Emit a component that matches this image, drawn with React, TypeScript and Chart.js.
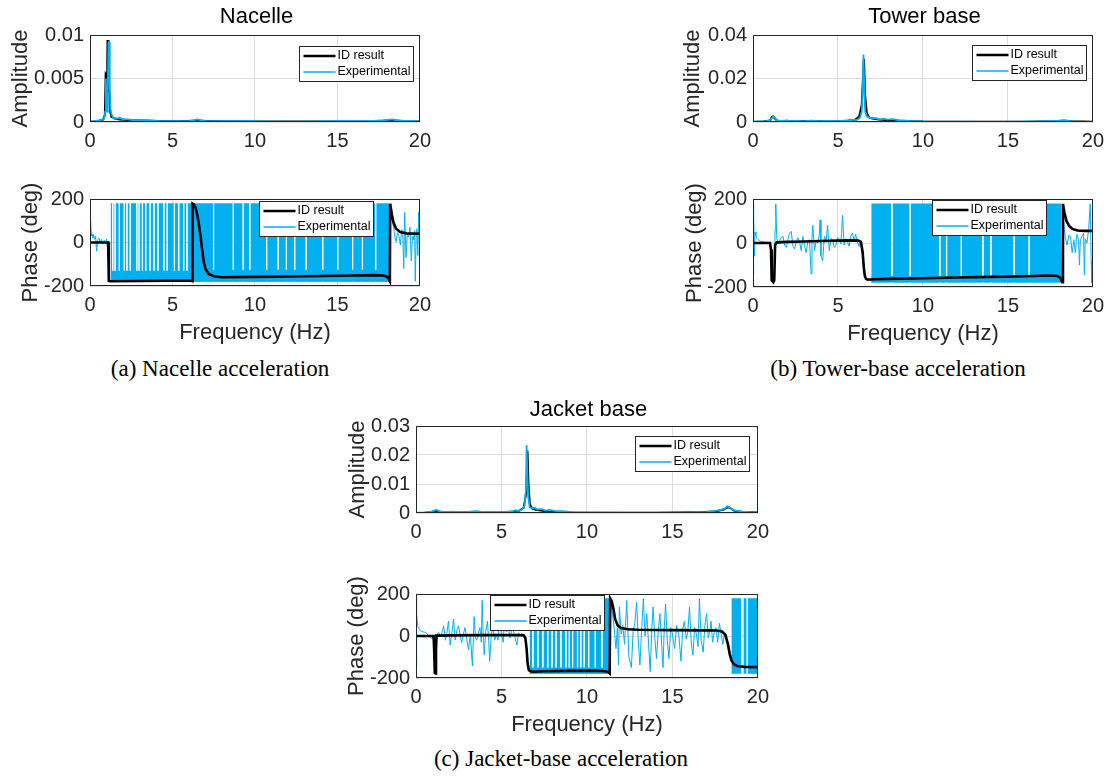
import React, { useEffect, useRef } from 'react';
import { Chart, registerables } from 'chart.js';

Chart.register(...registerables);

const BLUE = '#00B0F0';
const BLACK = '#000000';
const AXIS = '#262626';
const GRID = '#dedede';
const GAP = 0.07;
const PHASE_BOTTOM = -180;
const PHASE_TOP = 180;

// ---------- shared ticks ----------
const freqTicks = [0, 5, 10, 15, 20];
const freqTickLabels = ['0', '5', '10', '15', '20'];
const phaseTicks = [-200, 0, 200];
const phaseTickLabels = ['-200', '0', '200'];
const ampTicksA = [0, 0.005, 0.01];
const ampTickLabelsA = ['0', '0.005', '0.01'];
const ampTicksB = [0, 0.02, 0.04];
const ampTickLabelsB = ['0', '0.02', '0.04'];
const ampTicksC = [0, 0.01, 0.02, 0.03];
const ampTickLabelsC = ['0', '0.01', '0.02', '0.03'];

// ---------- (a) Nacelle ----------
const freqAmpA_id = [0, 0.5, 0.8, 0.9, 0.95, 0.98, 1.02, 1.06, 1.1, 1.14, 1.18, 1.22, 1.3, 1.5, 1.8, 2.5, 3.5, 5, 6.5, 8, 10, 14, 17.5, 18.3, 19, 20];
const ampA_id = [0, 0.0001, 0.0003, 0.0008, 0.0055, 0.0054, 0.0015, 0.0093, 0.0093, 0.0035, 0.0034, 0.0012, 0.0006, 0.0004, 0.0003, 0.0002, 0.00015, 0.0001, 0.00015, 0.0001, 0.00005, 0.00005, 0.0001, 0.0002, 0.0001, 0.00005];
const freqAmpA_exp = [0, 0.3, 0.6, 0.85, 0.92, 0.96, 1.0, 1.04, 1.08, 1.12, 1.16, 1.2, 1.24, 1.3, 1.4, 1.6, 1.8, 2.0, 2.3, 2.7, 3.0, 3.5, 4.2, 5.0, 6.0, 6.5, 7.0, 8.0, 9.5, 11, 13, 15, 17, 17.8, 18.3, 18.6, 19.2, 20];
const ampA_exp = [0.0001, 0.0001, 0.0002, 0.0004, 0.0012, 0.005, 0.0018, 0.0012, 0.004, 0.0091, 0.0092, 0.004, 0.0015, 0.0009, 0.0005, 0.0004, 0.0005, 0.0003, 0.0003, 0.0002, 0.0002, 0.0002, 0.0001, 0.0001, 0.0001, 0.0003, 0.0001, 0.0001, 0.0001, 0.00005, 0.00005, 0.0001, 0.0001, 0.0002, 0.0003, 0.0002, 0.0001, 0.0001];

const freqPhA_id = [0, 1.1, 1.14, 1.2, 3.0, 6.15, 6.2, 6.22, 6.3, 6.4, 6.5, 6.6, 6.7, 6.8, 6.9, 7.0, 7.2, 7.5, 8.0, 10, 12, 14, 16, 17.2, 17.8, 18.0, 18.1, 18.18, 18.2, 18.3, 18.4, 18.55, 18.8, 19.2, 20];
const phA_id = [0, 0, -176, -178, -177, -175, -178, 178, 174, 160, 128, 85, 30, -35, -90, -122, -145, -155, -160, -158, -156, -154, -152, -150, -152, -157, -166, -178, 178, 130, 92, 65, 48, 42, 40];
const freqPhA_exp = [0, 0.02, 0.04, 0.07, 0.1, 0.14, 0.18, 0.22, 0.28, 0.34, 0.4, 0.47, 0.55, 0.62, 0.7, 0.78, 0.86, 0.94, 1.0, 1.05, 1.1, 1.15, 1.2, 1.25, 9, 18.15, 18.22, 18.32, 18.42, 18.5, 18.56, 18.64, 18.72, 18.82, 18.9, 18.96, 19.02, 19.08, 19.16, 19.24, 19.32, 19.4, 19.48, 19.55, 19.62, 19.68, 19.72, 19.78, 19.82, 19.88, 19.92, 19.96, 20];
const phA_exp = [170, -150, 120, 45, 30, 38, 22, 35, 15, 28, -40, 12, 20, 2, 14, -8, 10, -5, 16, -20, 5, -170, -178, -178, null, -170, 150, 108, 63, 20, 4, 45, 33, -11, 60, 48, -120, 138, -70, 40, 25, 70, -85, 30, 13, 55, -178, 40, 63, -60, 138, 10, -30];
const phA_bandFrom = [1.25, 6.3];
const phA_bandTo = [6.2, 18.15];
const phA_bandGaps = [
  [1.38, 1.52, 1.78, 2.08, 2.24, 2.44, 2.84, 2.98, 3.18, 3.38, 3.64, 3.88, 4.12, 4.48, 4.68, 5.12, 5.38, 5.68, 5.88],
  [7.49, 8.69, 9.29, 9.69, 10.71, 11.41, 11.91, 12.41, 13.11, 14.11, 15.02, 15.92, 16.52, 17.32],
];
const phA_bandFloor = [-130, -125];

// ---------- (b) Tower base ----------
const freqAmpB_id = [0, 0.6, 1.0, 1.12, 1.2, 1.3, 1.45, 2, 3, 4, 5, 5.6, 6.0, 6.25, 6.4, 6.47, 6.53, 6.6, 6.7, 6.85, 7.1, 7.4, 8.0, 8.6, 10, 13, 16, 17.8, 18.3, 18.8, 20];
const ampB_id = [0, 0.0002, 0.0006, 0.0024, 0.0025, 0.0015, 0.0005, 0.0003, 0.0003, 0.0003, 0.0004, 0.0006, 0.001, 0.0025, 0.008, 0.02, 0.029, 0.012, 0.004, 0.002, 0.0015, 0.0012, 0.0008, 0.0005, 0.0002, 0.0001, 0.0001, 0.0003, 0.0006, 0.0003, 0.0001];
const freqAmpB_exp = [0, 0.4, 0.8, 1.05, 1.15, 1.22, 1.3, 1.4, 1.7, 2.0, 2.2, 2.6, 3.0, 3.4, 3.9, 4.5, 5.0, 5.4, 5.7, 5.9, 6.1, 6.3, 6.4, 6.46, 6.5, 6.54, 6.6, 6.7, 6.8, 7.0, 7.2, 7.4, 7.7, 7.9, 8.2, 8.6, 9.2, 10, 12, 14, 16, 17.5, 18.0, 18.3, 18.6, 19, 20];
const ampB_exp = [0.0002, 0.0003, 0.0004, 0.0012, 0.0022, 0.0026, 0.0018, 0.0007, 0.0005, 0.0007, 0.0004, 0.0005, 0.0003, 0.0006, 0.0004, 0.0005, 0.0004, 0.0006, 0.0008, 0.0011, 0.0009, 0.002, 0.005, 0.016, 0.031, 0.018, 0.005, 0.0025, 0.0022, 0.0016, 0.0019, 0.0012, 0.0015, 0.0011, 0.0013, 0.0008, 0.0005, 0.0003, 0.0002, 0.0001, 0.0002, 0.0004, 0.0006, 0.0008, 0.0005, 0.0002, 0.0001];

const freqPhB_id = [0, 1.0, 1.06, 1.1, 1.2, 1.25, 1.3, 1.4, 2, 3, 4, 5, 5.8, 6.2, 6.35, 6.45, 6.52, 6.58, 6.65, 6.75, 6.9, 7.2, 8, 10, 12, 14, 16, 17.4, 17.9, 18.05, 18.15, 18.2, 18.24, 18.32, 18.45, 18.6, 18.8, 19.1, 19.5, 20];
const phB_id = [0, 0, -30, -170, -178, -170, -10, 3, 5, 7, 9, 11, 12, 11, 5, -40, -110, -150, -163, -166, -166, -165, -163, -160, -157, -154, -151, -148, -150, -157, -170, -178, 178, 140, 100, 78, 64, 57, 55, 55];
const freqPhB_exp = [0, 0.02, 0.05, 0.08, 0.12, 0.17, 0.22, 0.3, 0.4, 0.5, 0.6, 0.7, 0.8, 0.9, 0.98, 1.05, 1.1, 1.18, 1.26, 1.3, 1.34, 1.4, 1.5, 1.57, 1.65, 1.77, 1.86, 1.96, 2.05, 2.15, 2.25, 2.35, 2.45, 2.55, 2.64, 2.74, 2.84, 2.93, 3.03, 3.13, 3.22, 3.32, 3.42, 3.47, 3.52, 3.62, 3.72, 3.81, 3.9, 3.95, 4.0, 4.1, 4.2, 4.3, 4.39, 4.49, 4.59, 4.69, 4.78, 4.88, 4.98, 5.07, 5.17, 5.27, 5.36, 5.46, 5.56, 5.66, 5.75, 5.85, 5.95, 6.04, 6.14, 6.24, 6.34, 6.45, 6.55, 6.65, 6.75, 6.85, 6.95, 12, 18.15, 18.25, 18.32, 18.39, 18.48, 18.58, 18.68, 18.78, 18.88, 18.97, 19.06, 19.16, 19.21, 19.26, 19.35, 19.45, 19.5, 19.55, 19.65, 19.75, 19.84, 19.9, 19.94, 20];
const phB_exp = [178, -140, 120, -60, 50, 35, 22, 15, 10, 5, 8, 2, 5, -3, 2, -40, -170, -175, -120, 60, 178, 20, -5, 10, 25, 30, -10, -20, 15, 45, 53, -15, -27, 10, 24, 5, -35, 30, -10, -44, 5, 15, -140, 20, 80, -35, 10, 0, 40, 105, -57, -80, 30, 10, 80, -35, 20, 15, -20, -10, 25, 15, -5, 125, -10, 20, 5, -15, 30, 45, 10, 40, 5, -17, 10, -60, -140, -168, -172, -170, -171, null, -172, 150, 60, 21, -10, 35, 30, -44, 15, -44, 40, 15, -100, 10, 30, 45, -145, 20, 0, 60, 178, -80, -180, -10];
const phB_bandFrom = [6.96];
const phB_bandTo = [18.15];
const phB_bandGaps = [[8.18, 9.25, 11.0, 11.39, 12.26, 13.53, 14.0, 15.37, 16.25]];
const phB_bandFloor = [-150];

// ---------- (c) Jacket base ----------
const freqAmpC_id = [0, 0.6, 1.0, 1.15, 1.3, 1.6, 2.5, 3.5, 4.5, 5.5, 6.0, 6.3, 6.45, 6.52, 6.58, 6.66, 6.8, 7.0, 7.4, 8.0, 9, 11, 14, 16.5, 17.5, 18.0, 18.25, 18.4, 18.6, 19, 20];
const ampC_id = [0, 0.0001, 0.0003, 0.0008, 0.0004, 0.0003, 0.0002, 0.0002, 0.0002, 0.0003, 0.0006, 0.0018, 0.007, 0.0215, 0.01, 0.003, 0.0015, 0.0011, 0.0008, 0.0004, 0.0002, 0.0001, 0.0001, 0.0003, 0.0005, 0.0012, 0.002, 0.0017, 0.0008, 0.0004, 0.0002];
const freqAmpC_exp = [0, 0.5, 0.9, 1.1, 1.2, 1.35, 1.7, 2.1, 2.6, 3.0, 3.5, 4.0, 4.6, 5.2, 5.6, 5.8, 6.0, 6.2, 6.35, 6.43, 6.47, 6.51, 6.56, 6.65, 6.8, 6.95, 7.1, 7.3, 7.6, 7.8, 8.1, 8.5, 9.2, 10, 12, 14, 16, 17, 17.6, 17.9, 18.1, 18.2, 18.3, 18.45, 18.7, 19.1, 19.6, 20];
const ampC_exp = [0.0001, 0.0002, 0.0005, 0.0009, 0.0011, 0.0006, 0.0003, 0.0005, 0.0003, 0.0004, 0.0006, 0.0003, 0.0004, 0.0003, 0.0006, 0.0009, 0.0007, 0.0012, 0.0025, 0.008, 0.0234, 0.015, 0.006, 0.002, 0.0016, 0.0018, 0.0012, 0.0014, 0.0008, 0.0011, 0.0007, 0.0006, 0.0003, 0.0002, 0.0001, 0.0001, 0.0002, 0.0004, 0.0008, 0.0012, 0.0016, 0.0024, 0.0021, 0.0014, 0.0008, 0.0005, 0.0003, 0.0002];

const freqPhC_id = [0, 1.03, 1.06, 1.1, 1.14, 1.17, 1.2, 2, 4, 6.0, 6.3, 6.4, 6.47, 6.53, 6.6, 6.7, 6.85, 7.5, 9, 10.5, 11.1, 11.25, 11.33, 11.36, 11.45, 11.55, 11.65, 11.8, 12.0, 12.4, 13, 15, 17, 17.6, 17.9, 18.1, 18.25, 18.35, 18.45, 18.6, 18.8, 19.2, 20];
const phC_id = [0, 0, -60, -175, -178, -60, 2, 3, 4, 5, 4, -10, -60, -130, -162, -168, -170, -168, -166, -165, -168, -172, -178, 178, 165, 130, 80, 50, 38, 32, 30, 28, 27, 26, 22, 5, -40, -85, -115, -135, -143, -147, -148];
const freqPhC_exp = [0, 0.02, 0.05, 0.1, 0.14, 0.2, 0.27, 0.4, 0.56, 0.75, 0.95, 1.05, 1.1, 1.15, 1.2, 1.33, 1.45, 1.55, 1.62, 1.72, 1.8, 1.9, 2.0, 2.1, 2.2, 2.29, 2.4, 2.49, 2.58, 2.67, 2.77, 2.87, 2.97, 3.07, 3.18, 3.3, 3.4, 3.48, 3.55, 3.65, 3.74, 3.82, 3.87, 3.93, 3.99, 4.08, 4.18, 4.25, 4.31, 4.41, 4.51, 4.6, 4.7, 4.8, 4.9, 5.0, 5.1, 5.2, 5.3, 5.4, 5.5, 5.6, 5.7, 5.8, 5.9, 6.0, 6.1, 6.2, 6.3, 6.4, 6.47, 6.53, 6.6, 6.65,
  9,
  11.34, 11.4, 11.5, 11.6, 11.7, 11.78, 11.85, 11.9, 12.0, 12.1, 12.2, 12.33, 12.45, 12.6, 12.7, 12.8, 12.91, 13.0, 13.1, 13.2, 13.3, 13.4, 13.5, 13.6, 13.7, 13.8, 13.87, 13.97, 14.07, 14.17, 14.27, 14.37, 14.45, 14.52, 14.6, 14.7, 14.8, 14.9, 15.0, 15.13, 15.25, 15.38, 15.5, 15.6, 15.7, 15.81, 15.9, 16.0, 16.1, 16.2, 16.3, 16.4, 16.5, 16.58, 16.68, 16.8, 16.9, 17.0, 17.1, 17.2, 17.26, 17.35, 17.45, 17.55, 17.65, 17.75, 17.85, 17.95, 18.05, 18.15, 18.25, 18.35, 18.42];
const phC_exp = [178, -143, 103, 48, 40, 30, 25, 20, 17, 0, -12, 5, -10, 8, 3, 17, -5, 25, 48, -20, 10, 71, -43, 15, 80, -20, 30, 48, 0, -31, 10, 40, -15, -66, 5, -143, 92, -10, -20, 15, 40, -30, 170, 10, -89, 20, 71, -20, -120, 15, 40, -20, 5, -20, 92, 10, -30, 108, 20, 48, -10, 30, 25, -10, -43, 15, 0, 12, -5, -15, -70, -140, -168, -172,
  null,
  -178, 150, 100, 30, -60, 40, -138, 138, 10, 50, -40, 169, -100, -150, 20, 60, 160, -20, -138, 30, 178, 0, 107, -30, -170, 40, 138, -10, -107, 20, 107, -40, -150, 30, 153, -20, -107, 40, 10, -60, 50, 0, -120, 30, 70, -15, 20, 138, -30, -92, 40, 10, -50, 178, -20, -77, 50, 107, -10, 30, 70, -30, 20, 40, -30, 60, 10, -40, 15, 0, -30, -70, -120];
const phC_bandFrom = [6.65, 18.45];
const phC_bandTo = [11.32, 20];
const phC_bandGaps = [
  [6.84, 7.13, 7.42, 7.71, 7.96, 8.19, 8.48, 8.77, 8.97, 9.16, 9.45, 9.64, 9.84, 10.1, 10.49, 10.88],
  [19.06, 19.12, 19.38],
];
const phC_bandFloor = [-150, -180];

// ---------- helpers ----------
type Pt = { x: number; y: number | null };
const pts = (xs: number[], ys: (number | null)[]): Pt[] => xs.map((x, i) => ({ x, y: ys[i] ?? null }));

function bandPoints(from: number, to: number, gaps: number[], top: number): Pt[] {
  const out: Pt[] = [];
  let start = from;
  gaps.filter((g) => g > from && g < to).forEach((g) => {
    out.push({ x: start, y: top }, { x: g - GAP / 2, y: top }, { x: g, y: null });
    start = g + GAP / 2;
  });
  out.push({ x: start, y: top }, { x: to, y: top });
  return out;
}

function bandDatasets(from: number[], to: number[], gaps: number[][], floor: number[]) {
  const list: any[] = [];
  from.forEach((f, i) => {
    list.push({
      label: '', data: bandPoints(f, to[i], gaps[i], PHASE_TOP), borderColor: 'rgba(0,0,0,0)', borderWidth: 1,
      backgroundColor: BLUE, fill: { value: PHASE_BOTTOM }, pointRadius: 0, spanGaps: false,
    });
    if (floor[i] > PHASE_BOTTOM) {
      list.push({
        label: '', data: [{ x: f, y: floor[i] }, { x: to[i], y: floor[i] }], borderColor: 'rgba(0,0,0,0)', borderWidth: 1,
        backgroundColor: BLUE, fill: { value: PHASE_BOTTOM }, pointRadius: 0,
      });
    }
  });
  return list;
}

const ampSets = (fi: number[], vi: number[], fe: number[], ve: number[]) => [
  { label: 'Experimental', data: pts(fe, ve), borderColor: BLUE, borderWidth: 1.8, pointRadius: 0, legendWidth: 1.6 },
  { label: 'ID result', data: pts(fi, vi), borderColor: BLACK, borderWidth: 2, pointRadius: 0, legendWidth: 2.5 },
];

const phaseSets = (fi: number[], vi: number[], fe: number[], ve: (number | null)[], bands: any[]) => [
  { label: 'ID result', data: pts(fi, vi), borderColor: BLACK, borderWidth: 2.6, pointRadius: 0, legendWidth: 2.5 },
  { label: 'Experimental', data: pts(fe, ve), borderColor: BLUE, borderWidth: 1, pointRadius: 0, spanGaps: false, legendWidth: 1.6 },
  ...bands,
];

// ---------- plugins ----------
const framePlugin = {
  id: 'frame',
  afterDatasetsDraw(chart: any) {
    const { ctx, chartArea: a } = chart;
    ctx.save();
    ctx.strokeStyle = AXIS;
    ctx.lineWidth = 1;
    ctx.strokeRect(Math.round(a.left) + 0.5, Math.round(a.top) + 0.5, Math.round(a.right - a.left) - 1, Math.round(a.bottom - a.top) - 1);
    ctx.restore();
  },
};

const boxLegendPlugin = {
  id: 'boxLegend',
  afterDraw(chart: any, _args: any, o: any) {
    if (!o || !o.items) return;
    const { ctx, chartArea: a } = chart;
    const x = Math.round(a.left + o.dx) + 0.5;
    const y = Math.round(a.top + o.dy) + 0.5;
    const w = 114, h = 35;
    ctx.save();
    ctx.fillStyle = '#ffffff';
    ctx.fillRect(x, y, w, h);
    ctx.strokeStyle = AXIS;
    ctx.lineWidth = 1;
    ctx.strokeRect(x, y, w, h);
    ctx.font = '12.5px "Liberation Sans", Arial, sans-serif';
    ctx.textBaseline = 'middle';
    ctx.textAlign = 'left';
    o.items.forEach((label: string, i: number) => {
      const ds = chart.data.datasets.find((d: any) => d.label === label);
      const cy = y + 9.5 + i * 16;
      ctx.strokeStyle = ds.borderColor;
      ctx.lineWidth = ds.legendWidth || ds.borderWidth;
      ctx.beginPath();
      ctx.moveTo(x + 4, cy);
      ctx.lineTo(x + 36, cy);
      ctx.stroke();
      ctx.fillStyle = '#000000';
      ctx.fillText(label, x + 38, cy);
    });
    ctx.restore();
  },
};

Chart.register(framePlugin as any, boxLegendPlugin as any);
Chart.defaults.font.family = '"Liberation Sans", Arial, sans-serif';

// ---------- panel layout ----------
const TOPPAD = 15;
const RIGHTPAD = 15;

interface PanelSpec {
  plotLeft: number; plotTop: number; plotW: number; plotH: number; yTitleCenter: number;
  yTitle: string; xTitle?: string; yMin: number; yMax: number; yTicks: number[]; yTickLabels: string[];
  datasets: any[]; legendDx: number; legendDy: number;
}

const panels: PanelSpec[] = [
  {
    plotLeft: 90, plotTop: 32, plotW: 333, plotH: 90, yTitleCenter: 20.5, yTitle: 'Amplitude',
    yMin: 0, yMax: 0.01, yTicks: ampTicksA, yTickLabels: ampTickLabelsA,
    datasets: ampSets(freqAmpA_id, ampA_id, freqAmpA_exp, ampA_exp), legendDx: 209, legendDy: 11,
  },
  {
    plotLeft: 90, plotTop: 196, plotW: 333, plotH: 90, yTitleCenter: 30.5, yTitle: 'Phase (deg)', xTitle: 'Frequency (Hz)',
    yMin: -200, yMax: 200, yTicks: phaseTicks, yTickLabels: phaseTickLabels,
    datasets: phaseSets(freqPhA_id, phA_id, freqPhA_exp, phA_exp, bandDatasets(phA_bandFrom, phA_bandTo, phA_bandGaps, phA_bandFloor)),
    legendDx: 169, legendDy: 2,
  },
  {
    plotLeft: 753, plotTop: 32, plotW: 343, plotH: 90, yTitleCenter: 693, yTitle: 'Amplitude',
    yMin: 0, yMax: 0.04, yTicks: ampTicksB, yTickLabels: ampTickLabelsB,
    datasets: ampSets(freqAmpB_id, ampB_id, freqAmpB_exp, ampB_exp), legendDx: 219, legendDy: 10,
  },
  {
    plotLeft: 753, plotTop: 196, plotW: 343, plotH: 91, yTitleCenter: 695, yTitle: 'Phase (deg)', xTitle: 'Frequency (Hz)',
    yMin: -200, yMax: 200, yTicks: phaseTicks, yTickLabels: phaseTickLabels,
    datasets: phaseSets(freqPhB_id, phB_id, freqPhB_exp, phB_exp, bandDatasets(phB_bandFrom, phB_bandTo, phB_bandGaps, phB_bandFloor)),
    legendDx: 179, legendDy: 1,
  },
  {
    plotLeft: 416, plotTop: 423, plotW: 345, plotH: 90, yTitleCenter: 358, yTitle: 'Amplitude',
    yMin: 0, yMax: 0.03, yTicks: ampTicksC, yTickLabels: ampTickLabelsC,
    datasets: ampSets(freqAmpC_id, ampC_id, freqAmpC_exp, ampC_exp), legendDx: 219, legendDy: 10,
  },
  {
    plotLeft: 416, plotTop: 591, plotW: 345, plotH: 87, yTitleCenter: 357, yTitle: 'Phase (deg)', xTitle: 'Frequency (Hz)',
    yMin: -200, yMax: 200, yTicks: phaseTicks, yTickLabels: phaseTickLabels,
    datasets: phaseSets(freqPhC_id, phC_id, freqPhC_exp, phC_exp, bandDatasets(phC_bandFrom, phC_bandTo, phC_bandGaps, phC_bandFloor)),
    legendDx: 74, legendDy: 1,
  },
];

function geometry(p: PanelSpec) {
  const left = Math.round(p.yTitleCenter - 13);
  const top = p.plotTop - TOPPAD;
  const yW = p.plotLeft - left;
  const xH = p.xTitle ? 60 : 32;
  return { left, top, yW, xH, width: yW + p.plotW + RIGHTPAD, height: TOPPAD + p.plotH + xH };
}

function Panel({ p }: { p: PanelSpec }) {
  const ref = useRef<HTMLCanvasElement | null>(null);
  const g = geometry(p);
  useEffect(() => {
    if (!ref.current) return;
    const chart = new Chart(ref.current, {
      type: 'line',
      data: { datasets: p.datasets },
      options: {
        responsive: false,
        maintainAspectRatio: false,
        animation: false,
        devicePixelRatio: 1,
        events: [],
        layout: { padding: { left: 0, top: TOPPAD, right: RIGHTPAD, bottom: 0 } },
        elements: { line: { tension: 0 } },
        plugins: {
          legend: { display: false },
          tooltip: { enabled: false },
          title: { display: false },
          boxLegend: { items: ['ID result', 'Experimental'], dx: p.legendDx, dy: p.legendDy },
        } as any,
        scales: {
          x: {
            type: 'linear', min: 0, max: 20,
            afterBuildTicks: (s: any) => { s.ticks = freqTicks.map((v) => ({ value: v })); },
            afterFit: (s: any) => { s.height = g.xH; },
            grid: { color: GRID, drawTicks: false, lineWidth: 1 },
            border: { display: false },
            ticks: {
              padding: 7, color: AXIS, font: { size: 20 }, maxRotation: 0, minRotation: 0, autoSkip: false,
              callback: (v: any) => freqTickLabels[freqTicks.indexOf(Number(v))] ?? '',
            },
            title: { display: !!p.xTitle, text: p.xTitle || '', color: AXIS, font: { size: 22 }, padding: { top: 0, bottom: 0 } },
          },
          y: {
            type: 'linear', min: p.yMin, max: p.yMax,
            afterBuildTicks: (s: any) => { s.ticks = p.yTicks.map((v) => ({ value: v })); },
            afterFit: (s: any) => { s.width = g.yW; },
            grid: { color: GRID, drawTicks: false, lineWidth: 1 },
            border: { display: false },
            ticks: {
              padding: 6, color: AXIS, font: { size: 20 }, autoSkip: false,
              callback: (v: any) => p.yTickLabels[p.yTicks.indexOf(Number(v))] ?? '',
            },
            title: { display: true, text: p.yTitle, color: AXIS, font: { size: 22 }, padding: { top: 0, bottom: 0 } },
          },
        },
      } as any,
    });
    return () => chart.destroy();
  }, []);
  return (
    <canvas
      ref={ref}
      width={g.width}
      height={g.height}
      style={{ position: 'absolute', left: g.left, top: g.top, width: g.width, height: g.height }}
    />
  );
}

const titles = [
  { text: 'Nacelle', cx: 256.5, top: 3 },
  { text: 'Tower base', cx: 924.5, top: 3 },
  { text: 'Jacket base', cx: 588.5, top: 396 },
];
const captions = [
  { text: '(a) Nacelle acceleration', cx: 220, top: 355 },
  { text: '(b) Tower-base acceleration', cx: 898, top: 355 },
  { text: '(c) Jacket-base acceleration', cx: 561, top: 745 },
];

export default function App() {
  return (
    <div style={{ position: 'absolute', left: 0, top: 0, width: 1112, height: 780, background: '#ffffff', overflow: 'hidden' }}>
      {panels.map((p, i) => <Panel key={i} p={p} />)}
      {titles.map((t) => (
        <div key={t.text} style={{
          position: 'absolute', left: t.cx - 150, width: 300, top: t.top, textAlign: 'center',
          fontFamily: '"Liberation Sans", Arial, sans-serif', fontSize: 22, lineHeight: '26px', color: '#000',
        }}>{t.text}</div>
      ))}
      {captions.map((c) => (
        <div key={c.text} style={{
          position: 'absolute', left: c.cx - 200, width: 400, top: c.top, textAlign: 'center',
          fontFamily: '"Liberation Serif", "Times New Roman", serif', fontSize: 23, lineHeight: '28px', color: '#000',
        }}>{c.text}</div>
      ))}
    </div>
  );
}
